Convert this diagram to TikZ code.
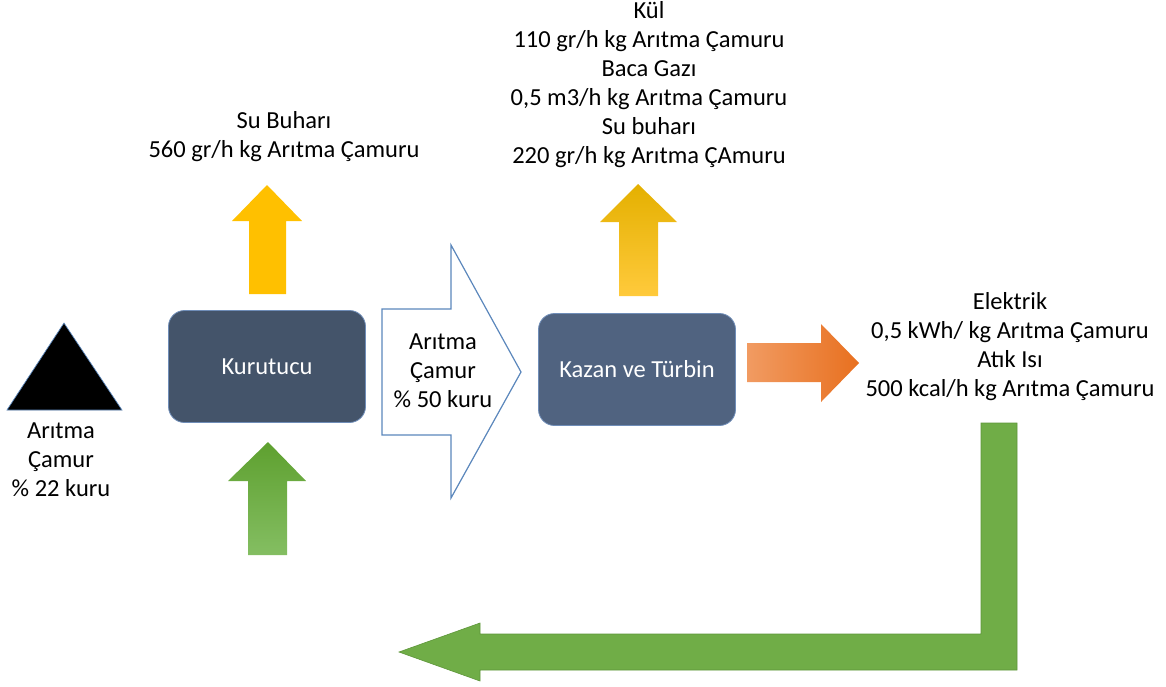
\documentclass[tikz,border=0pt]{standalone}
\usepackage{fontspec}
\setmainfont{Carlito}
\definecolor{slatedark}{HTML}{44546A}
\definecolor{slatemid}{HTML}{506380}
\definecolor{boxedge}{HTML}{6F8DB8}
\definecolor{accentblue}{HTML}{5B87BC}
\definecolor{leafgreen}{HTML}{70AD47}
\definecolor{leafedge}{HTML}{5E963A}
\definecolor{leaftop}{HTML}{5EA02F}
\definecolor{leafbottom}{HTML}{84BE62}
\definecolor{amber}{HTML}{FFC000}
\definecolor{ambertop}{HTML}{E4B000}
\definecolor{amberbottom}{HTML}{FFCA3C}
\definecolor{orangeleft}{HTML}{F19B62}
\definecolor{orangeright}{HTML}{E8701F}
\begin{document}
\begin{tikzpicture}[x=1pt,y=-1pt,
  lbl/.style={align=center, font=\fontsize{24.5}{29}\selectfont, inner sep=0pt, text=black},
  proc/.style={rounded corners=16pt, draw=boxedge, line width=0.8pt,
    text=white, font=\fontsize{24.5}{29}\selectfont,
    minimum width=197pt, minimum height=112pt, inner sep=0pt},
]
\useasboundingbox (0,0) rectangle (1166,686);

% raw sludge feed
\filldraw[fill=black, draw=accentblue, line width=0.7pt]
  (7,410) -- (64,323) -- (122,410) -- cycle;
\node[lbl] (feed) at (61,460) {Arıtma\\Çamur\\\% 22 kuru};

% process units
\node[proc, fill=slatedark] (dryer) at (267,366.5) {Kurutucu};
\node[proc, fill=slatemid] (boiler) at (637,369.5) {Kazan ve Türbin};

% steam leaving the dryer
\fill[amber] (267,185) -- (302,221) -- (286,221) -- (286,294)
  -- (249,294) -- (249,221) -- (232,221) -- cycle;
\node[lbl] (steam) at (284,136.5) {Su Buharı\\560 gr/h kg Arıtma Çamuru};

% heat entering the dryer
\shade[top color=leaftop, bottom color=leafbottom]
  (268,442) -- (306,481) -- (287,481) -- (287,555)
  -- (248,555) -- (248,481) -- (228,481) -- cycle;

% dried sludge passed to the boiler
\draw[accentblue, line width=1.2pt, fill=white]
  (382,309) -- (451,309) -- (451,245) -- (521,372) -- (451,498)
  -- (451,435) -- (382,435) -- cycle;
\node[lbl] (dried) at (443,371) {Arıtma\\Çamur\\\% 50 kuru};

% flue products leaving the boiler
\shade[top color=ambertop, middle color=amber, bottom color=amberbottom]
  (638,184) -- (677,222) -- (658,222) -- (658,296)
  -- (619,296) -- (619,222) -- (600,222) -- cycle;
\node[lbl] (flue) at (649,85) {Kül\\110 gr/h kg Arıtma Çamuru\\Baca Gazı\\0,5 m3/h kg Arıtma Çamuru\\Su buharı\\220 gr/h kg Arıtma ÇAmuru};

% energy output
\shade[left color=orangeleft, right color=orangeright]
  (747,343) -- (821,343) -- (821,324) -- (859,363) -- (821,402)
  -- (821,382) -- (747,382) -- cycle;
\node[lbl] (power) at (1010,346.5) {Elektrik\\0,5 kWh/ kg Arıtma Çamuru\\Atık Isı\\500 kcal/h kg Arıtma Çamuru};

% waste heat returned
\filldraw[fill=leafgreen, draw=leafedge, line width=0.6pt]
  (981,423) -- (1017,423) -- (1017,670) -- (480,670) -- (480,681)
  -- (399,652) -- (480,623) -- (480,634) -- (981,634) -- cycle;
\end{tikzpicture}
\end{document}
